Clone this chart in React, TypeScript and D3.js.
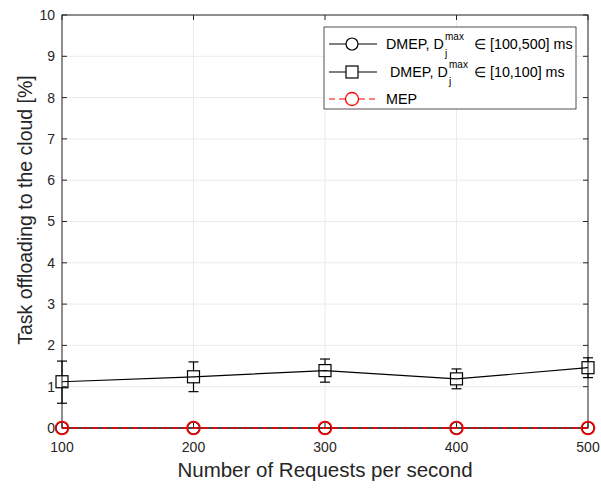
import React from "react";
import * as d3 from "d3";

const requests = [100, 200, 300, 400, 500];
const dmepShortMean = [1.12, 1.24, 1.39, 1.19, 1.46];
const dmepShortLow = [0.6, 0.88, 1.11, 0.95, 1.22];
const dmepShortHigh = [1.62, 1.6, 1.67, 1.43, 1.7];
const dmepLongMean = [0, 0, 0, 0, 0];
const mepMean = [0, 0, 0, 0, 0];
const yTicks = [0, 1, 2, 3, 4, 5, 6, 7, 8, 9, 10];
const xTicks = [100, 200, 300, 400, 500];

const W = 601;
const H = 489;
const m = { left: 62, right: 13, top: 15, bottom: 61 };
const font = "Helvetica, 'Liberation Sans', Arial, sans-serif";
const axisColor = "#262626";

export default function App() {
  const x = d3.scaleLinear().domain([100, 500]).range([m.left, W - m.right]);
  const y = d3.scaleLinear().domain([0, 10]).range([H - m.bottom, m.top]);
  const line = d3
    .line<number>()
    .x((_, i) => x(requests[i]))
    .y((v) => y(v));
  const x0 = m.left;
  const x1 = W - m.right;
  const y0 = H - m.bottom;
  const y1 = m.top;
  const tickLen = 5;

  const lg = { x: 324, y: 27, w: 252, h: 82 };
  const rows = [44, 72, 99];
  const legendFont = 14.3;

  const labelWithSymbol = (row: number, startX: number, range: string) => (
    <g fill="#000">
      <text x={startX} y={row} dy="0.35em" fontSize={legendFont}>DMEP, D</text>
      <text x={startX + 59} y={row - 4} fontSize={10}>max</text>
      <text x={startX + 59} y={row + 13} fontSize={10}>j</text>
      <text x={474} y={row} dy="0.35em" fontSize={legendFont}>{"∈ " + range + " ms"}</text>
    </g>
  );

  return (
    <svg width={W} height={H} style={{ position: "absolute", left: 0, top: 0, background: "#fff" }} fontFamily={font}>
      <rect width={W} height={H} fill="#fff" />
      {/* grid */}
      {yTicks.map((t) => (
        <line key={"gy" + t} x1={x0} x2={x1} y1={y(t)} y2={y(t)} stroke="#ebebeb" strokeWidth={1} />
      ))}
      {xTicks.map((t) => (
        <line key={"gx" + t} x1={x(t)} x2={x(t)} y1={y0} y2={y1} stroke="#ebebeb" strokeWidth={1} />
      ))}
      {/* box */}
      <rect x={x0} y={y1} width={x1 - x0} height={y0 - y1} fill="none" stroke={axisColor} strokeWidth={1} />
      {/* ticks */}
      {yTicks.map((t) => (
        <g key={"ty" + t}>
          <line x1={x0} x2={x0 + tickLen} y1={y(t)} y2={y(t)} stroke={axisColor} />
          <line x1={x1} x2={x1 - tickLen} y1={y(t)} y2={y(t)} stroke={axisColor} />
          <text x={x0 - 7} y={y(t)} dy="0.35em" textAnchor="end" fontSize={14} fill={axisColor}>
            {t}
          </text>
        </g>
      ))}
      {xTicks.map((t) => (
        <g key={"tx" + t}>
          <line x1={x(t)} x2={x(t)} y1={y0} y2={y0 - tickLen} stroke={axisColor} />
          <line x1={x(t)} x2={x(t)} y1={y1} y2={y1 + tickLen} stroke={axisColor} />
          <text x={x(t)} y={y0 + 24} textAnchor="middle" fontSize={14} fill={axisColor}>
            {t}
          </text>
        </g>
      ))}
      {/* axis labels */}
      <text x={(x0 + x1) / 2} y={477} textAnchor="middle" fontSize={20.5} fill={axisColor}>
        Number of Requests per second
      </text>
      <text
        transform={`translate(32,210) rotate(-90)`}
        textAnchor="middle"
        fontSize={19.5}
        fill={axisColor}
      >
        Task offloading to the cloud [%]
      </text>

      {/* DMEP, D in [100,500] */}
      <path d={line(dmepLongMean) || ""} fill="none" stroke="#000" strokeWidth={1.2} />
      {dmepLongMean.map((v, i) => (
        <circle key={"c1" + i} cx={x(requests[i])} cy={y(v)} r={6} fill="none" stroke="#000" strokeWidth={1.2} />
      ))}

      {/* DMEP, D in [10,100] with error bars */}
      <path d={line(dmepShortMean) || ""} fill="none" stroke="#000" strokeWidth={1.2} />
      {dmepShortMean.map((v, i) => {
        const cx = x(requests[i]);
        return (
          <g key={"s" + i} stroke="#000" strokeWidth={1.2} fill="none">
            <line x1={cx} x2={cx} y1={y(dmepShortLow[i])} y2={y(v) + 6} />
            <line x1={cx} x2={cx} y1={y(v) - 6} y2={y(dmepShortHigh[i])} />
            <line x1={cx - 5} x2={cx + 5} y1={y(dmepShortLow[i])} y2={y(dmepShortLow[i])} />
            <line x1={cx - 5} x2={cx + 5} y1={y(dmepShortHigh[i])} y2={y(dmepShortHigh[i])} />
            <rect x={cx - 6} y={y(v) - 6} width={12} height={12} />
          </g>
        );
      })}

      {/* MEP */}
      <path d={line(mepMean) || ""} fill="none" stroke="#ff0000" strokeWidth={1.4} strokeDasharray="6,4" />
      {mepMean.map((v, i) => (
        <circle key={"c3" + i} cx={x(requests[i])} cy={y(v)} r={6.5} fill="none" stroke="#ff0000" strokeWidth={1.6} />
      ))}

      {/* legend */}
      <rect x={lg.x} y={lg.y} width={lg.w} height={lg.h} fill="#fff" stroke={axisColor} strokeWidth={0.8} />
      <g>
        <line x1={329} x2={377} y1={rows[0]} y2={rows[0]} stroke="#000" strokeWidth={1.2} />
        <circle cx={352} cy={rows[0]} r={6} fill="#fff" stroke="#000" strokeWidth={1.2} />
        {labelWithSymbol(rows[0], 386, "[100,500]")}
      </g>
      <g>
        <line x1={329} x2={377} y1={rows[1]} y2={rows[1]} stroke="#000" strokeWidth={1.2} />
        <rect x={346} y={rows[1] - 6} width={12} height={12} fill="#fff" stroke="#000" strokeWidth={1.2} />
        {labelWithSymbol(rows[1], 390, "[10,100]")}
      </g>
      <g>
        <line x1={329} x2={377} y1={rows[2]} y2={rows[2]} stroke="#ff0000" strokeWidth={1.2} strokeDasharray="6,4" />
        <circle cx={352} cy={rows[2]} r={6.5} fill="#fff" stroke="#ff0000" strokeWidth={1.3} />
        <text x={386} y={rows[2]} dy="0.35em" fontSize={legendFont} fill="#000">
          MEP
        </text>
      </g>
    </svg>
  );
}
